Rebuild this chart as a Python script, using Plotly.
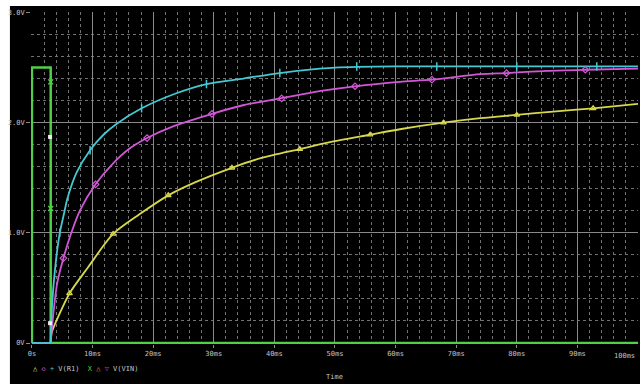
import plotly.graph_objects as go

# ---- data (time in ms, volts) ----
cyan_t = [0, 3.1, 3.25, 3.5, 4.1, 4.6, 5.4, 5.8, 7.4, 9.6, 11.8, 14.0, 18.1, 23.5, 28.8, 34.9, 40.9, 47.5, 50.0, 60.0, 100.0]
cyan_v = [0, 0, 0.27, 0.48, 0.81, 1.0, 1.2, 1.3, 1.55, 1.75, 1.89, 1.99, 2.13, 2.26, 2.35, 2.40, 2.45, 2.49, 2.50, 2.51, 2.51]

mag_t = [0, 3.1, 3.6, 4.2, 5.2, 6.5, 7.9, 10.5, 13.4, 16.0, 19.0, 23.5, 29.7, 35.0, 41.0, 48.0, 53.3, 60.7, 66.0, 74.0, 78.3, 85.0, 91.3, 100.0]
mag_v = [0, 0, 0.30, 0.55, 0.77, 1.0, 1.2, 1.44, 1.63, 1.76, 1.86, 1.97, 2.08, 2.16, 2.22, 2.29, 2.33, 2.37, 2.39, 2.44, 2.45, 2.47, 2.48, 2.49]

yel_t = [0, 3.1, 3.25, 4.6, 6.2, 9.3, 13.4, 17.8, 22.5, 27.0, 33.0, 37.9, 44.2, 49.0, 55.8, 60.7, 67.9, 74.0, 80.0, 86.0, 92.6, 100.0]
yel_v = [0, 0, 0.09, 0.27, 0.45, 0.69, 0.99, 1.17, 1.34, 1.46, 1.59, 1.68, 1.76, 1.82, 1.89, 1.94, 2.0, 2.04, 2.07, 2.10, 2.13, 2.17]

vin_t = [0, 0, 3.1, 3.1, 100]
vin_v = [0, 2.5, 2.5, 0, 0]

cyan_mk_t = [4.6, 9.6, 18.1, 28.8, 40.9, 53.6, 66.8, 80.0, 93.2]
cyan_mk_v = [1.0, 1.75, 2.13, 2.35, 2.45, 2.51, 2.51, 2.51, 2.51]
mag_mk_t = [5.2, 10.5, 19.0, 29.7, 41.2, 53.3, 66.0, 78.3, 91.3]
mag_mk_v = [0.77, 1.44, 1.86, 2.08, 2.22, 2.33, 2.39, 2.45, 2.48]
yel_mk_t = [6.2, 13.4, 22.5, 33.0, 44.2, 55.8, 67.9, 80.0, 92.6]
yel_mk_v = [0.45, 0.99, 1.34, 1.59, 1.76, 1.89, 2.0, 2.07, 2.13]
vin_mk_t = [3.1, 3.1]
vin_mk_v = [2.37, 1.22]
cur_mk_t = [3.0, 3.0]
cur_mk_v = [1.87, 0.18]

x_ticks = [0, 10, 20, 30, 40, 50, 60, 70, 80, 90]
x_labels = ["0s", "10ms", "20ms", "30ms", "40ms", "50ms", "60ms", "70ms", "80ms", "90ms"]
y_ticks = [0, 1, 2, 3]
y_labels = ["0V", "1.0V", "2.0V", "3.0V"]

CYAN = "#44c8d2"
MAG = "#d456d8"
YEL = "#d8d84c"
GRN = "#4fd046"
TXT = "#c4c4c4"
FONT = "DejaVu Sans Mono"

fig = go.Figure()
fig.add_trace(go.Scatter(x=vin_t, y=vin_v, mode="lines", line=dict(color=GRN, width=2.5)))


def add_curve(t, v, color):
    # flat pre-step part (linear) + smooth rise (spline)
    fig.add_trace(go.Scatter(x=t[:2], y=v[:2], mode="lines", line=dict(color=color, width=1.8)))
    fig.add_trace(go.Scatter(x=t[1:], y=v[1:], mode="lines",
                             line=dict(color=color, width=1.8, shape="spline", smoothing=0.8)))


add_curve(yel_t, yel_v, YEL)
add_curve(mag_t, mag_v, MAG)
add_curve(cyan_t, cyan_v, CYAN)

fig.add_trace(go.Scatter(x=yel_mk_t, y=yel_mk_v, mode="markers",
                         marker=dict(symbol="triangle-up-open", size=5, color=YEL, line=dict(width=1.2))))
fig.add_trace(go.Scatter(x=mag_mk_t, y=mag_mk_v, mode="markers",
                         marker=dict(symbol="diamond-open", size=5, color=MAG, line=dict(width=1.2))))
fig.add_trace(go.Scatter(x=cyan_mk_t, y=cyan_mk_v, mode="markers",
                         marker=dict(symbol="line-ns", size=6, color=CYAN, line=dict(width=1.5, color=CYAN))))
fig.add_trace(go.Scatter(x=vin_mk_t, y=vin_mk_v, mode="markers",
                         marker=dict(symbol="x-thin", size=5, color=GRN, line=dict(width=1.3, color=GRN))))
fig.add_trace(go.Scatter(x=cur_mk_t, y=cur_mk_v, mode="markers",
                         marker=dict(symbol="square", size=4, color="#f0f0f0")))

# black panel behind the whole plot region
fig.add_shape(type="rect", xref="paper", yref="paper", layer="below",
              x0=-0.0347, x1=1.01, y0=-0.13, y1=1.018,
              fillcolor="black", line=dict(width=0))

fig.update_layout(
    width=640, height=384,
    margin=dict(l=31, r=2, t=12, b=40),
    paper_bgcolor="white", plot_bgcolor="black",
    showlegend=False,
    font=dict(family=FONT, size=7, color=TXT),
    xaxis=dict(range=[-0.15, 100], tickvals=x_ticks, ticktext=x_labels,
               showgrid=True, gridcolor="#8a8a8a", gridwidth=1.3,
               ticks="outside", ticklen=3, tickcolor="#8a8a8a",
               zeroline=False, showline=False,
               tickfont=dict(family=FONT, size=7, color=TXT),
               minor=dict(dtick=2, showgrid=True, gridcolor="#727272", gridwidth=1, griddash="dot")),
    yaxis=dict(range=[-0.009, 3.004], tickvals=y_ticks, ticktext=y_labels,
               showgrid=True, gridcolor="#8a8a8a", gridwidth=1.3,
               ticks="outside", ticklen=4, tickcolor="#8a8a8a",
               zeroline=False, showline=False,
               tickfont=dict(family=FONT, size=7, color=TXT),
               minor=dict(dtick=0.2, showgrid=True, gridcolor="#727272", gridwidth=1, griddash="dot")),
)

fig.add_annotation(x=100, y=0, xref="x", yref="y", text="100ms", showarrow=False,
                   xanchor="right", yanchor="top", yshift=-7, xshift=-1,
                   font=dict(family=FONT, size=7, color=TXT))
fig.add_annotation(x=0.5, y=-0.1, xref="paper", yref="paper", text="Time", showarrow=False,
                   xanchor="center", yanchor="middle",
                   font=dict(family=FONT, size=7, color=TXT))
legend_text = (f"<span style='color:{YEL}'>△</span> <span style='color:{MAG}'>◇</span> "
               f"<span style='color:{CYAN}'>+</span> V(R1)  <span style='color:{GRN}'>X</span> "
               f"<span style='color:#e06850'>△</span> <span style='color:#9048d8'>▽</span> V(VIN)")
fig.add_annotation(x=0.0, y=-0.075, xref="paper", yref="paper", text=legend_text, showarrow=False,
                   xanchor="left", yanchor="middle",
                   font=dict(family=FONT, size=7, color=TXT))

fig.write_html("out.html")
